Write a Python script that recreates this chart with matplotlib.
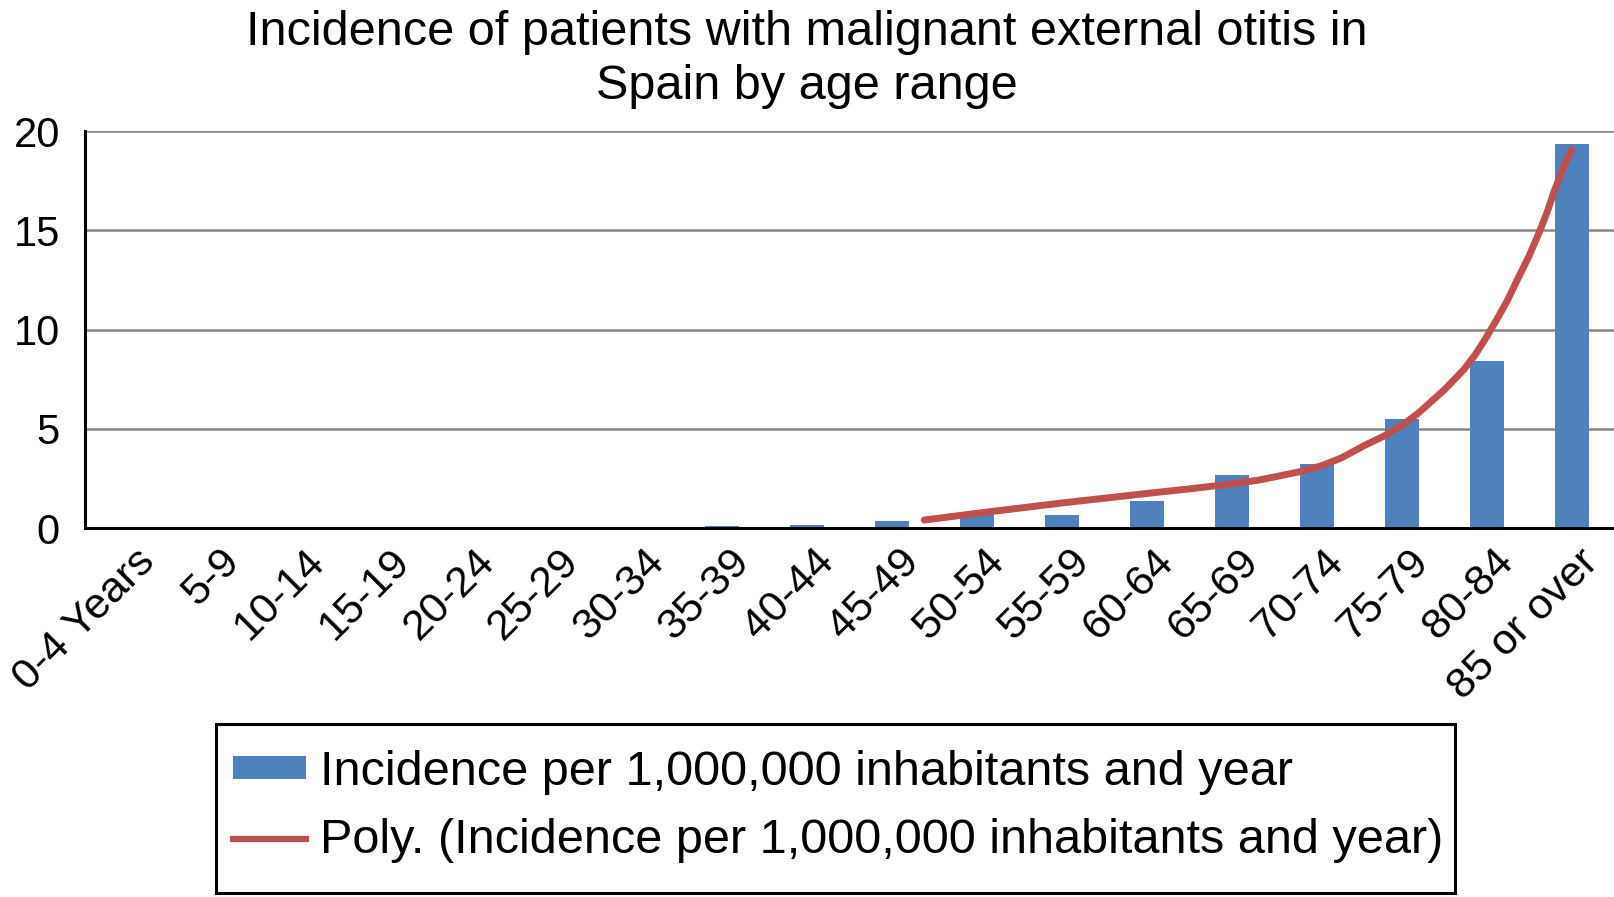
import matplotlib.pyplot as plt
from matplotlib.lines import Line2D
from matplotlib.patches import Patch, Rectangle
import matplotlib.transforms as mtransforms

plt.rcParams['font.family'] = ['Liberation Sans', 'DejaVu Sans']

# Age ranges and incidence per 1,000,000 inhabitants and year
age_ranges = ['0-4 Years', '5-9', '10-14', '15-19', '20-24', '25-29', '30-34',
              '35-39', '40-44', '45-49', '50-54', '55-59', '60-64', '65-69',
              '70-74', '75-79', '80-84', '85 or over']
incidence = [0.0, 0.0, 0.03, 0.0, 0.0, 0.03, 0.0,
             0.1, 0.15, 0.36, 0.75, 0.67, 1.37, 2.67,
             3.23, 5.48, 8.43, 19.35]

# Polynomial trend line as drawn in the chart (category position, value)
trend_pos = [9.38, 10.0, 10.5, 11.0, 11.5, 12.0, 12.5, 13.0, 13.3, 13.57, 13.85,
             14.08, 14.3, 14.55, 14.8, 15.02, 15.2, 15.33, 15.5, 15.73, 15.87,
             16.0, 16.12, 16.25, 16.35, 16.5, 16.63, 16.72, 16.79, 16.87, 16.94, 17.0]
trend_val = [0.40, 0.74, 1.0, 1.26, 1.5, 1.74, 1.97, 2.22, 2.4, 2.63, 2.88,
             3.17, 3.55, 4.13, 4.65, 5.22, 5.8, 6.3, 6.95, 7.97, 8.75,
             9.63, 10.5, 11.5, 12.4, 13.7, 15.0, 16.0, 16.9, 17.8, 18.5, 19.05]

bar_color = '#4F81BD'
line_color = '#C0504D'

W, H = 1614, 897
fig = plt.figure(figsize=(W / 100, H / 100), dpi=100)
ax = fig.add_axes([85 / W, 1 - 528 / H, 1 - 85 / W, (528 - 131) / H])

x = list(range(len(age_ranges)))
ax.bar(x, incidence, width=0.4, color=bar_color, zorder=2)
ax.plot(trend_pos, trend_val, color=line_color, linewidth=5,
        solid_capstyle='round', solid_joinstyle='round', zorder=3)

ax.set_xlim(-0.5, len(age_ranges) - 0.5)
ax.set_ylim(0, 20)
ax.set_yticks([0, 5, 10, 15, 20])
ax.yaxis.grid(True, color='#868686', linewidth=1.8, zorder=1)
ax.set_axisbelow(True)

for side in ['top', 'right']:
    ax.spines[side].set_visible(False)
for side in ['left', 'bottom']:
    ax.spines[side].set_color('black')
    ax.spines[side].set_linewidth(2.2)
    ax.spines[side].set_zorder(4)

ax.tick_params(axis='y', length=0, pad=18, labelsize=30)
ax.tick_params(axis='x', length=0, pad=20, labelsize=31)
ax.set_xticks(x)
ax.set_xticklabels(age_ranges, rotation=45, ha='right', va='center',
                   rotation_mode='anchor')
offset = mtransforms.ScaledTranslation(21 / 100, 0, fig.dpi_scale_trans)
for lbl in ax.get_xticklabels():
    lbl.set_transform(lbl.get_transform() + offset)

fig.text(0.5, 0.989, 'Incidence of patients with malignant external otitis in\nSpain by age range',
         ha='center', va='top', fontsize=35, linespacing=1.27)

handles = [Patch(facecolor=bar_color, edgecolor='none'),
           Line2D([0], [0], color=line_color, linewidth=4.5)]
labels = ['Incidence per 1,000,000 inhabitants and year',
          'Poly. (Incidence per 1,000,000 inhabitants and year)']
leg = fig.legend(handles, labels, loc='upper left',
                 bbox_to_anchor=(233 / W, 1 - 750 / H),
                 fontsize=35, frameon=False,
                 handlelength=1.5, handleheight=0.35, handletextpad=0.29,
                 labelspacing=0.48, borderpad=0, borderaxespad=0)

# legend box as drawn in the original chart
fig.patches.append(Rectangle((216 / W, 1 - 893 / H), (1455 - 216) / W, (893 - 724) / H,
                             transform=fig.transFigure, fill=False,
                             edgecolor='black', linewidth=2.2))

fig.savefig('out.png', dpi=100)
